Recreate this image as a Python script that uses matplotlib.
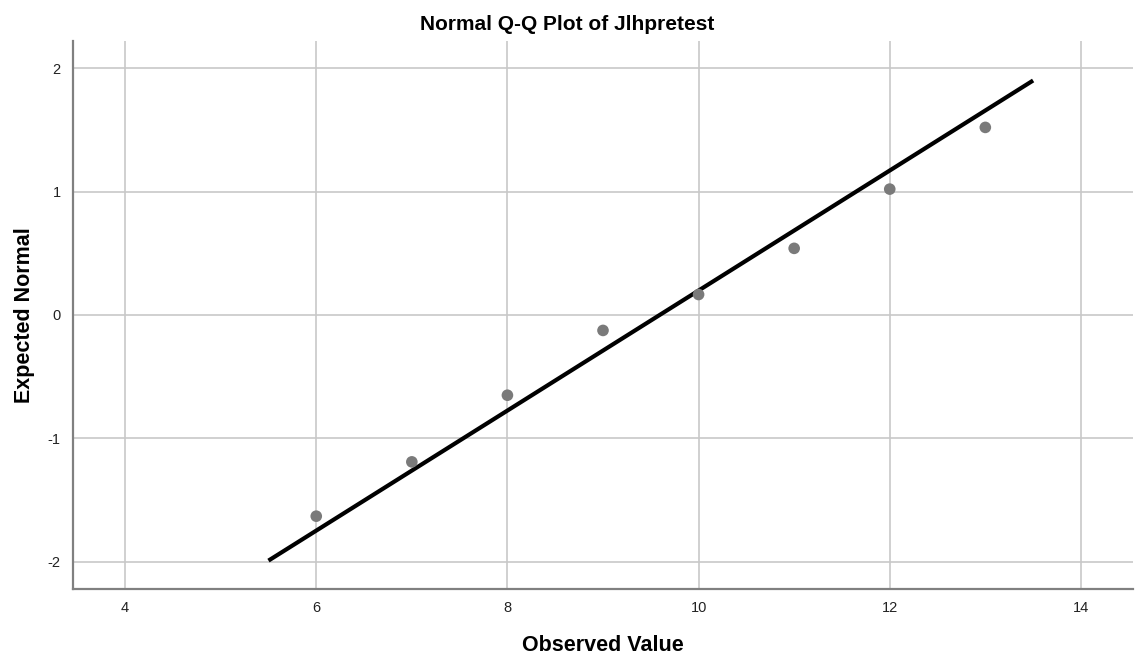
import matplotlib
matplotlib.use('Agg')
import matplotlib.pyplot as plt

# Data
observed = [6, 7, 8, 9, 10, 11, 12, 13]
expected = [-1.63, -1.19, -0.65, -0.125, 0.166, 0.54, 1.02, 1.52]
line_x = [5.5, 13.5]
line_y = [-1.99, 1.90]
x_ticks = [4, 6, 8, 10, 12, 14]
y_ticks = [-2, -1, 0, 1, 2]

plt.rcParams['font.family'] = ['Liberation Sans', 'DejaVu Sans']
plt.rcParams['axes.unicode_minus'] = False

fig = plt.figure(figsize=(11.35, 6.57), dpi=100, facecolor='white')
axes = fig.add_axes([73/1135, 68/657, 1060/1135, 548/657])

axes.plot(line_x, line_y, color='black', linewidth=3, solid_capstyle='butt', zorder=3)
axes.scatter(observed, expected, s=70, color='#7a7a7a', edgecolors='none', zorder=4)

axes.set_xlim(3.455, 14.545)
axes.set_ylim(-2.22, 2.22)
axes.set_xticks(x_ticks)
axes.set_yticks(y_ticks)
axes.tick_params(length=0, labelsize=10.5, pad=9, colors='#222222')
axes.grid(True, color='#c8c8c8', linewidth=1.2)
axes.set_axisbelow(True)

axes.spines['right'].set_color('none')
axes.spines['top'].set_color('none')
for s in ['left', 'bottom']:
    axes.spines[s].set_color('#808080')
    axes.spines[s].set_linewidth(1.6)

# title sits at the centre of the whole figure, not of the axes
axes.set_title('Normal Q-Q Plot of Jlhpretest', fontsize=15, fontweight='bold',
               x=(567.5 - 73) / 1060, pad=8)
axes.set_xlabel('Observed Value', fontsize=15.5, fontweight='bold', labelpad=14)
axes.set_ylabel('Expected Normal', fontsize=15.5, fontweight='bold', labelpad=9)

fig.savefig('out.png', dpi=100, facecolor='white')
